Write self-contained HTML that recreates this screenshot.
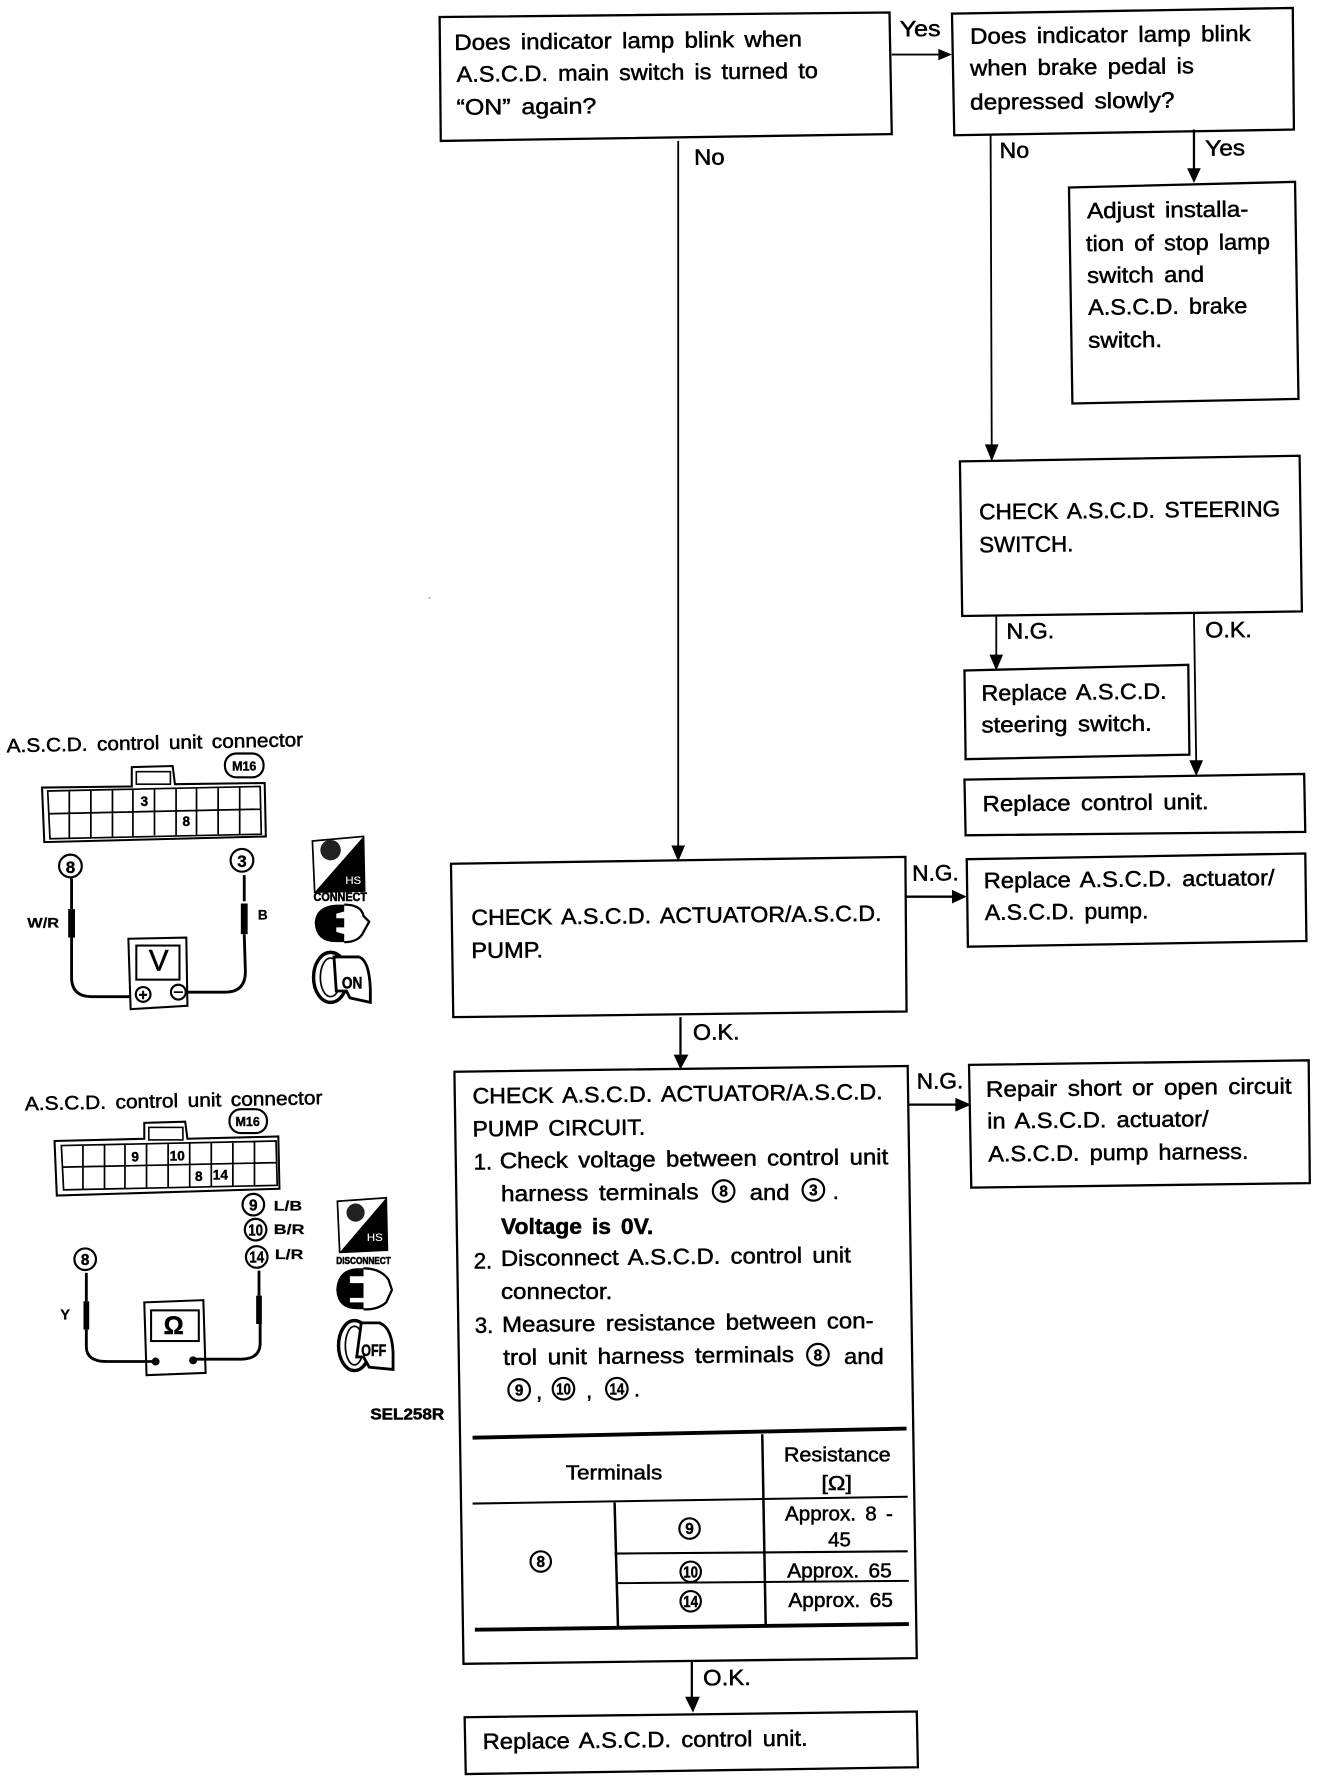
<!DOCTYPE html>
<html><head><meta charset="utf-8"><style>
html,body{margin:0;padding:0;background:#fff}
svg{display:block}
text{font-family:"Liberation Sans",sans-serif;font-size:19.5px;fill:#000;stroke:#000;stroke-width:.45;word-spacing:3px}
.b{fill:none;stroke:#000;stroke-width:2}
.l{fill:none;stroke:#000;stroke-width:1.6}
.t{fill:none;stroke:#000;stroke-width:3.4}
.m{fill:none;stroke:#000;stroke-width:1.8}
.w{fill:none;stroke:#000;stroke-width:2.5}
.c{fill:#fff;stroke:#000;stroke-width:1.9}
.n{font-size:13.5px;font-weight:bold;text-anchor:middle;stroke-width:.35;word-spacing:0}
.s{font-size:12px;font-weight:bold;stroke-width:.2}
.g{font-size:17.5px}
</style></head><body>
<svg width="1328" height="1782" viewBox="0 0 1169 1568" preserveAspectRatio="none" xmlns="http://www.w3.org/2000/svg">
<rect width="1169" height="1568" fill="#fff"/>
<!-- boxes -->
<polygon class="b" points="387,15 783,11 785,118 388,124"/>
<polygon class="b" points="838,12 1138,7 1139,114 840,119"/>
<polygon class="b" points="941,165 1140,160 1143,351 944,355"/>
<polygon class="b" points="845,406 1144,401 1146,538 847,542"/>
<polygon class="b" points="849,590 1046,585 1047,664 850,668"/>
<polygon class="b" points="849,686 1148,681 1149,732 850,735"/>
<polygon class="b" points="397,760 797,754 798,890 399,895"/>
<polygon class="b" points="851,756 1149,751 1150,828 852,833"/>
<polygon class="b" points="400,943 799,938 807,1459 408,1464"/>
<polygon class="b" points="853,937 1152,933 1153,1041 855,1045"/>
<polygon class="b" points="409,1511 807,1506 808,1555 410,1561"/>
<!-- connectors -->
<path class="l" d="M785 48H826"/><path class="l" d="M597 124V745"/><path class="l" d="M872 119L873 393"/>
<path class="l" d="M1051 114V150" style="stroke-width:2"/><path class="l" d="M877 542V578"/><path class="l" d="M1051 540L1053 671"/>
<path class="l" d="M797 789H839" style="stroke-width:2"/><path class="l" d="M599 895V928" style="stroke-width:2"/>
<path class="l" d="M800 972H842" style="stroke-width:2"/><path class="l" d="M609 1461V1495" style="stroke-width:2"/>
<polygon points="826,43 838,48 826,53"/>
<polygon points="591,744 603,744 597,758"/>
<polygon points="867,391 879,391 873,406"/>
<polygon points="1045,148 1057,148 1051,161"/>
<polygon points="871,576 883,576 877,590"/>
<polygon points="1047,669 1059,669 1053,683"/>
<polygon points="838,783 851,789 838,795"/>
<polygon points="593,928 606,928 599,941"/>
<polygon points="841,966 855,972 841,978"/>
<polygon points="603,1493 616,1493 610,1507"/>
<!-- connector labels -->
<text lengthAdjust="spacingAndGlyphs" x="792" y="32" textLength="36" transform="rotate(-.6 792 32)">Yes</text>
<text lengthAdjust="spacingAndGlyphs" x="611" y="145" textLength="27" transform="rotate(-.6 611 145)">No</text>
<text lengthAdjust="spacingAndGlyphs" x="880" y="139" textLength="26" transform="rotate(-.6 880 139)">No</text>
<text lengthAdjust="spacingAndGlyphs" x="1061" y="137" textLength="35" transform="rotate(-.6 1061 137)">Yes</text>
<text lengthAdjust="spacingAndGlyphs" x="886" y="562" textLength="42" transform="rotate(-.6 886 562)">N.G.</text>
<text lengthAdjust="spacingAndGlyphs" x="1061" y="561" textLength="41" transform="rotate(-.6 1061 561)">O.K.</text>
<text lengthAdjust="spacingAndGlyphs" x="803" y="775" textLength="41" transform="rotate(-.6 803 775)">N.G.</text>
<text lengthAdjust="spacingAndGlyphs" x="610" y="915" textLength="41" transform="rotate(-.6 610 915)">O.K.</text>
<text lengthAdjust="spacingAndGlyphs" x="807" y="958" textLength="41" transform="rotate(-.6 807 958)">N.G.</text>
<text lengthAdjust="spacingAndGlyphs" x="619" y="1483" textLength="42" transform="rotate(-.6 619 1483)">O.K.</text>
<!-- box text -->
<text lengthAdjust="spacingAndGlyphs" x="400" y="44" textLength="306" transform="rotate(-.6 400 44)">Does indicator lamp blink when</text>
<text lengthAdjust="spacingAndGlyphs" x="402" y="72" textLength="318" transform="rotate(-.6 402 72)">A.S.C.D. main switch is turned to</text>
<text lengthAdjust="spacingAndGlyphs" x="402" y="101" textLength="123" transform="rotate(-.6 402 101)">“ON” again?</text>
<g transform="translate(0,-.5)">
<text lengthAdjust="spacingAndGlyphs" x="854" y="39" textLength="247" transform="rotate(-.6 854 39)">Does indicator lamp blink</text>
<text lengthAdjust="spacingAndGlyphs" x="854" y="67" textLength="197" transform="rotate(-.6 854 67)">when brake pedal is</text>
<text lengthAdjust="spacingAndGlyphs" x="854" y="97" textLength="180" transform="rotate(-.6 854 97)">depressed slowly?</text>
</g>
<g transform="translate(0,-1)">
<text lengthAdjust="spacingAndGlyphs" x="957" y="193" textLength="142" transform="rotate(-.6 957 193)">Adjust installa-</text>
<text lengthAdjust="spacingAndGlyphs" x="956" y="222" textLength="162" transform="rotate(-.6 956 222)">tion of stop lamp</text>
<text lengthAdjust="spacingAndGlyphs" x="957" y="250" textLength="103" transform="rotate(-.6 957 250)">switch and</text>
<text lengthAdjust="spacingAndGlyphs" x="958" y="278" textLength="140" transform="rotate(-.6 958 278)">A.S.C.D. brake</text>
<text lengthAdjust="spacingAndGlyphs" x="958" y="307" textLength="65" transform="rotate(-.6 958 307)">switch.</text>
</g>
<g transform="translate(0,-2)">
<text lengthAdjust="spacingAndGlyphs" x="862" y="459" textLength="265" transform="rotate(-.6 862 459)">CHECK A.S.C.D. STEERING</text>
<text lengthAdjust="spacingAndGlyphs" x="862" y="488" textLength="83" transform="rotate(-.6 862 488)">SWITCH.</text>
</g>
<g transform="translate(0,-1.5)">
<text lengthAdjust="spacingAndGlyphs" x="864" y="618" textLength="163" transform="rotate(-.6 864 618)">Replace A.S.C.D.</text>
<text lengthAdjust="spacingAndGlyphs" x="864" y="646" textLength="150" transform="rotate(-.6 864 646)">steering switch.</text>
</g>
<text lengthAdjust="spacingAndGlyphs" x="865" y="714" textLength="199" transform="rotate(-.6 865 714)">Replace control unit.</text>
<g transform="translate(0,-2)">
<text lengthAdjust="spacingAndGlyphs" x="415" y="816" textLength="361" transform="rotate(-.6 415 816)">CHECK A.S.C.D. ACTUATOR/A.S.C.D.</text>
<text lengthAdjust="spacingAndGlyphs" x="415" y="845" textLength="63" transform="rotate(-.6 415 845)">PUMP.</text>
</g>
<g transform="translate(0,-1.5)">
<text lengthAdjust="spacingAndGlyphs" x="866" y="783" textLength="256" transform="rotate(-.6 866 783)">Replace A.S.C.D. actuator/</text>
<text lengthAdjust="spacingAndGlyphs" x="867" y="811" textLength="144" transform="rotate(-.6 867 811)">A.S.C.D. pump.</text>
</g>
<text lengthAdjust="spacingAndGlyphs" x="416" y="971" textLength="361" transform="rotate(-.6 416 971)">CHECK A.S.C.D. ACTUATOR/A.S.C.D.</text>
<text lengthAdjust="spacingAndGlyphs" x="416" y="1000" textLength="152" transform="rotate(-.6 416 1000)">PUMP CIRCUIT.</text>
<text x="417" y="1029">1.</text>
<text lengthAdjust="spacingAndGlyphs" x="440" y="1028" textLength="342" transform="rotate(-.6 440 1028)">Check voltage between control unit</text>
<text lengthAdjust="spacingAndGlyphs" x="441" y="1057" textLength="174" transform="rotate(-.6 441 1057)">harness terminals</text>
<text lengthAdjust="spacingAndGlyphs" x="660" y="1056" textLength="35">and</text>
<text x="733" y="1055">.</text>
<text lengthAdjust="spacingAndGlyphs" x="441" y="1086" textLength="134" style="font-weight:bold">Voltage is 0V.</text>
<text x="417" y="1116">2.</text>
<text lengthAdjust="spacingAndGlyphs" x="441" y="1114" textLength="308" transform="rotate(-.6 441 1114)">Disconnect A.S.C.D. control unit</text>
<text lengthAdjust="spacingAndGlyphs" x="441" y="1143" textLength="98">connector.</text>
<text x="418" y="1173">3.</text>
<text lengthAdjust="spacingAndGlyphs" x="442" y="1172" textLength="327" transform="rotate(-.6 442 1172)">Measure resistance between con-</text>
<text lengthAdjust="spacingAndGlyphs" x="443" y="1201" textLength="256" transform="rotate(-.6 443 1201)">trol unit harness terminals</text>
<text lengthAdjust="spacingAndGlyphs" x="743" y="1200" textLength="35">and</text>
<text x="472" y="1231">,</text>
<text x="516" y="1230">,</text>
<text x="558" y="1229">.</text>
<text lengthAdjust="spacingAndGlyphs" x="868" y="965" textLength="269" transform="rotate(-.6 868 965)">Repair short or open circuit</text>
<text lengthAdjust="spacingAndGlyphs" x="869" y="993" textLength="195" transform="rotate(-.6 869 993)">in A.S.C.D. actuator/</text>
<text lengthAdjust="spacingAndGlyphs" x="870" y="1022" textLength="229" transform="rotate(-.6 870 1022)">A.S.C.D. pump harness.</text>
<text lengthAdjust="spacingAndGlyphs" x="425" y="1539" textLength="286" transform="rotate(-.6 425 1539)">Replace A.S.C.D. control unit.</text>
<!-- circled refs in box -->
<circle class="c" cx="637" cy="1048" r="9.5"/><text class="n" x="637" y="1053">8</text>
<circle class="c" cx="716" cy="1047" r="9.5"/><text class="n" x="716" y="1052">3</text>
<circle class="c" cx="720" cy="1192" r="9.5"/><text class="n" x="720" y="1197">8</text>
<circle class="c" cx="457" cy="1223" r="9.5"/><text class="n" x="457" y="1228">9</text>
<circle class="c" cx="496" cy="1222" r="9.5"/><text class="n" x="496" y="1227" textLength="13" lengthAdjust="spacingAndGlyphs">10</text>
<circle class="c" cx="543" cy="1222" r="9.5"/><text class="n" x="543" y="1227" textLength="13" lengthAdjust="spacingAndGlyphs">14</text>
<!-- table -->
<path class="t" d="M416 1265L798 1257"/>
<path class="t" d="M418 1434L800 1429"/>
<path class="m" d="M416 1323L799 1317"/>
<path class="m" d="M541 1367L799 1365M543 1393L800 1391"/>
<path class="m" style="stroke-width:2.2" d="M671 1262L674 1430M541 1322L544 1432"/>
<text lengthAdjust="spacingAndGlyphs" x="498" y="1302" textLength="85" class="g">Terminals</text>
<text lengthAdjust="spacingAndGlyphs" x="690" y="1286" textLength="94" class="g">Resistance</text>
<text lengthAdjust="spacingAndGlyphs" x="723" y="1311" textLength="27" class="g">[Ω]</text>
<text lengthAdjust="spacingAndGlyphs" x="691" y="1338" textLength="95" class="g">Approx. 8 -</text>
<text lengthAdjust="spacingAndGlyphs" x="729" y="1361" textLength="20" class="g">45</text>
<text lengthAdjust="spacingAndGlyphs" x="693" y="1388" textLength="92" class="g">Approx. 65</text>
<text lengthAdjust="spacingAndGlyphs" x="694" y="1414" textLength="92" class="g">Approx. 65</text>
<circle class="c" cx="476" cy="1374" r="9"/><text class="n" x="476" y="1379">8</text>
<circle class="c" cx="607" cy="1345" r="9"/><text class="n" x="607" y="1350">9</text>
<circle class="c" cx="608" cy="1383" r="9"/><text class="n" x="608" y="1388" textLength="13" lengthAdjust="spacingAndGlyphs">10</text>
<circle class="c" cx="608" cy="1409" r="9"/><text class="n" x="608" y="1414" textLength="13" lengthAdjust="spacingAndGlyphs">14</text>
<!-- left diagram 1 -->
<text lengthAdjust="spacingAndGlyphs" x="6" y="662" textLength="261" transform="rotate(-1.2 6 662)" style="font-size:17px">A.S.C.D. control unit connector</text>
<rect x="198" y="663" width="34" height="21" rx="10" class="c"/><text class="n" x="215" y="678" style="font-size:11px">M16</text>
<path class="m" d="M37 693L116 692V675L152 674L154 690L233 689L234 736L39 741Z"/>
<rect x="120" y="679" width="30" height="11" class="m" style="stroke-width:1.4"/>
<path class="m" style="stroke-width:1.5" d="M42 696L229 692L230 734L44 738Z M43 716L229 712 M61 696V737 M80 696V737 M99 695V736 M117 695V736 M136 694V735 M155 694V735 M173 694V735 M192 693V734 M211 693V734"/>
<text class="n" x="127" y="709" style="font-size:12px">3</text><text class="n" x="164" y="727" style="font-size:12px">8</text>
<circle class="c" cx="62" cy="762" r="10"/><text class="n" x="62" y="768" style="font-size:15px">8</text>
<circle class="c" cx="213" cy="757" r="10"/><text class="n" x="213" y="763" style="font-size:15px">3</text>
<path class="w" d="M63 773V800M63 825V860Q63 877 81 877H115M215 770V793M215 822L216 855Q216 873 198 873H160"/>
<path d="M63 800V825M215 795V822" fill="none" stroke="#000" stroke-width="6"/>
<path class="m" d="M113 826L164 825L165 885L115 888Z"/>
<rect x="120" y="832" width="38" height="30" class="m"/>
<text x="131" y="854" style="font-size:26px">V</text>
<circle class="c" cx="126" cy="875" r="6.5"/><text class="n" x="126" y="880">+</text>
<circle class="c" cx="157" cy="873" r="6.5"/><path d="M153 873H161" stroke="#000" stroke-width="1.5"/>
<text lengthAdjust="spacingAndGlyphs" class="s" x="24" y="816" textLength="28">W/R</text><text class="s" x="227" y="809">B</text>
<!-- icons 1 -->
<polygon points="275,740 320,736 321,784 277,785" fill="#fff" stroke="#000" stroke-width="1.5"/>
<polygon points="320,736 321,784 277,785" fill="#000"/>
<circle cx="291" cy="748" r="9" fill="#222"/>
<text x="304" y="778" style="font-size:10px;fill:#fff;stroke:#fff;stroke-width:.1">HS</text>
<text lengthAdjust="spacingAndGlyphs" x="276" y="793" textLength="47" style="font-size:10.5px;font-weight:bold;stroke-width:.5">CONNECT</text>
<path d="M277 812Q278 797 296 796H303V802L296 804V808H303V816H296V820L303 822V829H296Q278 829 277 812Z"/>
<path d="M303 796Q318 796 320 806L325 811L320 820Q316 829 303 829" fill="none" stroke="#000" stroke-width="2"/>
<ellipse cx="291" cy="860" rx="15" ry="22" fill="none" stroke="#000" stroke-width="3"/>
<ellipse cx="291" cy="860" rx="9" ry="17" fill="none" stroke="#000" stroke-width="1.5"/>
<path d="M294 842H316Q325 845 326 870V882L308 878L305 872H296Z" fill="#fff" stroke="#000" stroke-width="2.5"/>
<text lengthAdjust="spacingAndGlyphs" x="301" y="870" textLength="18" style="font-size:15px;font-weight:bold">ON</text>
<!-- left diagram 2 -->
<text lengthAdjust="spacingAndGlyphs" x="22" y="977" textLength="262" transform="rotate(-1.2 22 977)" style="font-size:17px">A.S.C.D. control unit connector</text>
<rect x="202" y="976" width="33" height="21" rx="10" class="c"/><text class="n" x="218" y="991" style="font-size:11px">M16</text>
<path class="m" d="M48 1004L127 1002V988L163 987L165 1002L245 1000L246 1046L50 1052Z"/>
<rect x="131" y="992" width="30" height="11" class="m" style="stroke-width:1.4"/>
<path class="m" style="stroke-width:1.5" d="M54 1008L243 1004L244 1043L56 1047Z M55 1027L243 1023 M73 1007V1047 M92 1007V1047 M110 1007V1046 M129 1006V1046 M148 1006V1045 M167 1005V1045 M186 1005V1044 M205 1004V1044 M224 1004V1043"/>
<text class="n" x="119" y="1022" style="font-size:12px">9</text><text class="n" x="156" y="1021" style="font-size:12px">10</text>
<text class="n" x="175" y="1039" style="font-size:12px">8</text><text class="n" x="194" y="1038" style="font-size:12px">14</text>
<circle class="c" cx="223" cy="1060" r="9.5"/><text class="n" x="223" y="1065">9</text>
<circle class="c" cx="225" cy="1082" r="9.5"/><text class="n" x="225" y="1087" textLength="13" lengthAdjust="spacingAndGlyphs">10</text>
<circle class="c" cx="226" cy="1106" r="9.5"/><text class="n" x="226" y="1111" textLength="13" lengthAdjust="spacingAndGlyphs">14</text>
<text lengthAdjust="spacingAndGlyphs" class="s" x="241" y="1065" textLength="25">L/B</text>
<text lengthAdjust="spacingAndGlyphs" class="s" x="241" y="1086" textLength="27">B/R</text>
<text lengthAdjust="spacingAndGlyphs" class="s" x="242" y="1108" textLength="25">L/R</text>
<circle class="c" cx="75" cy="1108" r="9.5"/><text class="n" x="75" y="1113">8</text>
<path class="w" d="M76 1120V1145M76 1170V1185Q76 1198 94 1198H137M228 1118V1140M229 1165L229 1183Q228 1196 212 1196H170"/>
<path d="M76 1145V1170M228 1140V1165" fill="none" stroke="#000" stroke-width="5"/>
<path class="m" d="M127 1146L179 1144L181 1208L129 1210Z"/>
<rect x="133" y="1153" width="42" height="27" class="m"/>
<text x="144" y="1174" style="font-size:22px;font-weight:bold">Ω</text>
<circle cx="137" cy="1198" r="3.5"/><circle cx="170" cy="1197" r="3.5"/>
<text class="s" x="53" y="1161" style="font-size:13px">Y</text>
<!-- icons 2 -->
<polygon points="297,1057 340,1054 341,1100 299,1102" fill="#fff" stroke="#000" stroke-width="1.5"/>
<polygon points="340,1054 341,1100 299,1102" fill="#000"/>
<circle cx="313" cy="1067" r="8" fill="#222"/>
<text x="323" y="1092" style="font-size:10px;fill:#fff;stroke:#fff;stroke-width:.1">HS</text>
<text lengthAdjust="spacingAndGlyphs" x="296" y="1112" textLength="48" style="font-size:8.5px;font-weight:bold;stroke-width:.5">DISCONNECT</text>
<path d="M296 1135Q297 1117 314 1116H320V1123H308V1129H320V1142H308V1146H320V1152H314Q297 1152 296 1135Z"/>
<path d="M320 1116Q335 1116 342 1126L345 1135L340 1146Q332 1153 320 1152" fill="none" stroke="#000" stroke-width="2"/>
<ellipse cx="312" cy="1184" rx="14" ry="22" fill="none" stroke="#000" stroke-width="3"/>
<ellipse cx="312" cy="1184" rx="8" ry="17" fill="none" stroke="#000" stroke-width="1.5"/>
<path d="M318 1164H334Q345 1168 346 1190V1205L325 1203L320 1194H314Z" fill="#fff" stroke="#000" stroke-width="2.5"/>
<text lengthAdjust="spacingAndGlyphs" x="318" y="1193" textLength="22" style="font-size:15px;font-weight:bold">OFF</text>
<text lengthAdjust="spacingAndGlyphs" x="326" y="1249" textLength="65" style="font-size:13.5px;font-weight:bold">SEL258R</text>
<circle cx="378" cy="526" r=".7" fill="#777"/>
</svg>
</body></html>
